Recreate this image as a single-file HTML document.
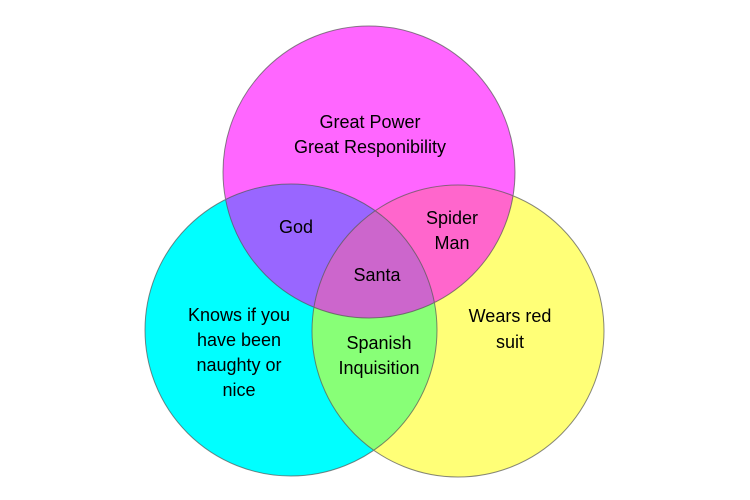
<!DOCTYPE html>
<html><head><meta charset="utf-8"><style>
html,body{margin:0;padding:0;background:#fff;width:750px;height:500px;overflow:hidden}
text{font-family:"Liberation Sans",Arial,sans-serif;font-size:18px;fill:#000;text-anchor:middle}
</style></head><body>
<svg width="750" height="500" xmlns="http://www.w3.org/2000/svg">
<defs>
<clipPath id="cT"><circle cx="369" cy="172" r="146"/></clipPath>
<clipPath id="cL"><circle cx="291" cy="330" r="146"/></clipPath>
<clipPath id="cR"><circle cx="458" cy="331" r="146"/></clipPath>
</defs>
<circle cx="369" cy="172" r="146" fill="#ff66ff"/>
<circle cx="291" cy="330" r="146" fill="#00ffff"/>
<circle cx="458" cy="331" r="146" fill="#ffff77"/>
<g clip-path="url(#cT)"><circle cx="291" cy="330" r="146" fill="#9966ff"/><circle cx="458" cy="331" r="146" fill="#ff66cc"/></g>
<g clip-path="url(#cL)"><circle cx="458" cy="331" r="146" fill="#88ff77"/></g>
<g clip-path="url(#cT)"><g clip-path="url(#cL)"><circle cx="458" cy="331" r="146" fill="#cc66cc"/></g></g>
<g fill="none" stroke="#555" stroke-width="1" opacity="0.7">
<circle cx="369" cy="172" r="146"/>
<circle cx="291" cy="330" r="146"/>
<circle cx="458" cy="331" r="146"/>
</g>
<text x="370" y="128">Great Power</text>
<text x="370" y="153">Great Responibility</text>
<text x="296" y="233">God</text>
<text x="452" y="224">Spider</text>
<text x="452" y="249">Man</text>
<text x="377" y="281">Santa</text>
<text x="239" y="321">Knows if you</text>
<text x="239" y="346">have been</text>
<text x="239" y="371">naughty or</text>
<text x="239" y="396">nice</text>
<text x="379" y="349">Spanish</text>
<text x="379" y="374">Inquisition</text>
<text x="510" y="322">Wears red</text>
<text x="510" y="348">suit</text>
</svg>
</body></html>
